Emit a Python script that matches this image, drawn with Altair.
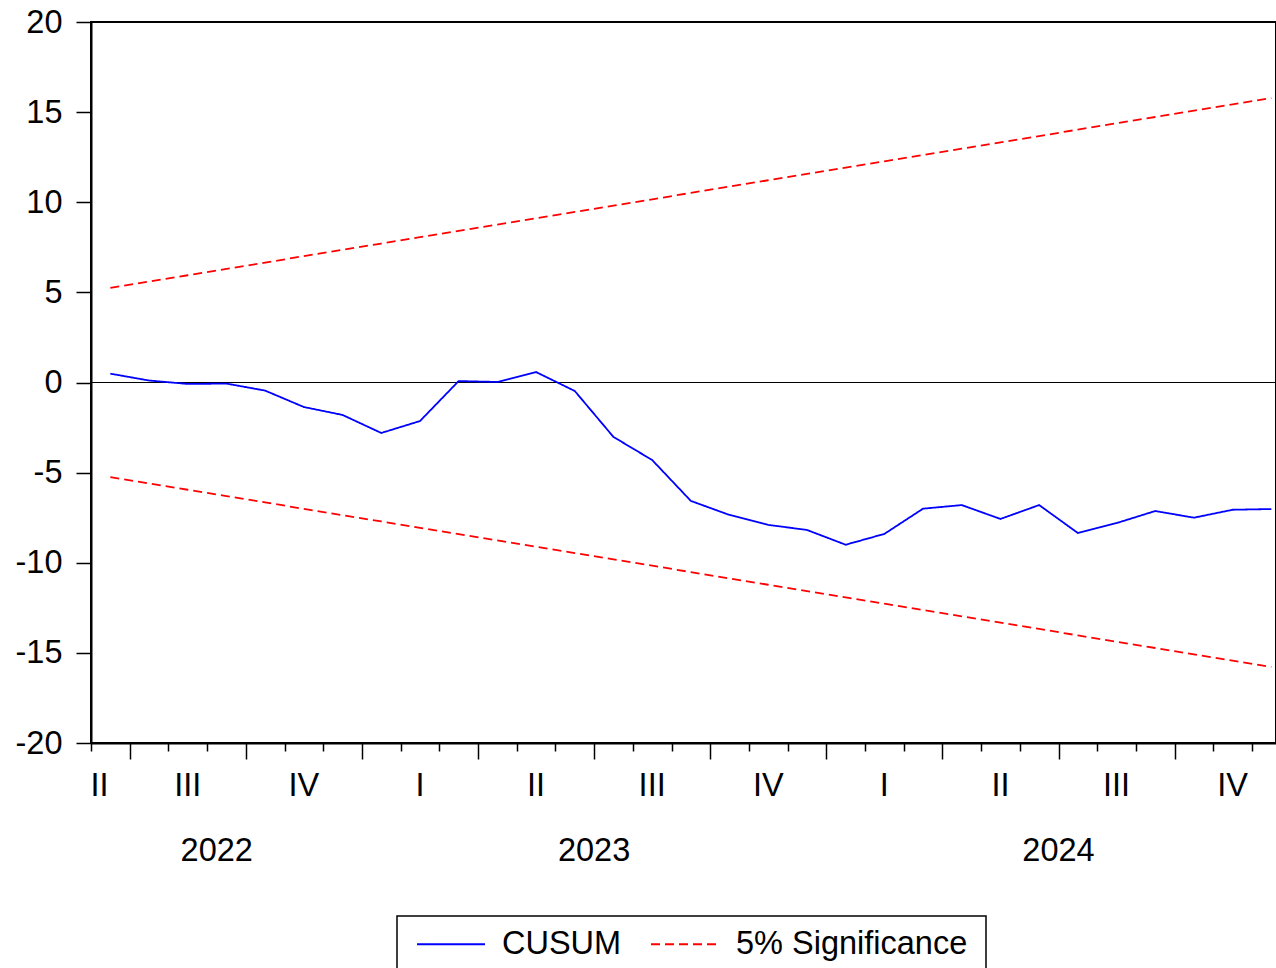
import altair as alt
import pandas as pd

# Monthly observations, Jun 2022 .. Dec 2024 (index 0 = Jun 2022)
cusum = [0.49, 0.11, -0.08, -0.06, -0.45, -1.36, -1.80, -2.80, -2.14, 0.08,
         0.03, 0.58, -0.47, -3.02, -4.30, -6.57, -7.35, -7.90, -8.18, -9.00,
         -8.40, -7.00, -6.80, -7.57, -6.80, -8.35, -7.80, -7.13, -7.50, -7.06,
         -7.02]
upper = [5.25, 5.60, 5.95, 6.30, 6.65, 7.01, 7.36, 7.71, 8.06, 8.41,
         8.76, 9.11, 9.46, 9.81, 10.16, 10.52, 10.87, 11.22, 11.57, 11.92,
         12.27, 12.62, 12.97, 13.32, 13.67, 14.03, 14.38, 14.73, 15.08, 15.43,
         15.78]
lower = [-5.25, -5.60, -5.95, -6.30, -6.65, -7.01, -7.36, -7.71, -8.06, -8.41,
         -8.76, -9.11, -9.46, -9.81, -10.16, -10.52, -10.87, -11.22, -11.57, -11.92,
         -12.27, -12.62, -12.97, -13.32, -13.67, -14.03, -14.38, -14.73, -15.08, -15.43,
         -15.78]

quarter_labels = ["II", "III", "IV", "I", "II", "III", "IV", "I", "II", "III", "IV"]
quarter_pos = [-0.28, 2, 5, 8, 11, 14, 17, 20, 23, 26, 29]
year_labels = ["2022", "2023", "2024"]
year_pos = [2.75, 12.5, 24.5]

month_edges = [i - 0.5 for i in range(31)]
y_ticks = [-20, -15, -10, -5, 0, 5, 10, 15, 20]

FONT = "Liberation Sans"
FS = 32.5
series_names = ["CUSUM", "5% Significance"]

rows = []
for i, v in enumerate(cusum):
    rows.append({"idx": i, "value": v, "series": "CUSUM", "band": "cusum"})
for i, v in enumerate(upper):
    rows.append({"idx": i, "value": v, "series": "5% Significance", "band": "upper"})
for i, v in enumerate(lower):
    rows.append({"idx": i, "value": v, "series": "5% Significance", "band": "lower"})
lines_df = pd.DataFrame(rows)

x_scale = alt.Scale(domain=[-0.5, 30.12], nice=False, zero=False)
y_scale = alt.Scale(domain=[-20, 20], nice=False, zero=False)

# month ticks are short, quarter boundaries get the long ones
x_axis = alt.Axis(
    values=month_edges, labels=False, title=None, grid=False,
    domainColor="black", domainWidth=2, tickColor="black", tickWidth=1.5,
    tickSize={"condition": {"test": "(datum.value - 0.5) % 3 == 0", "value": 16}, "value": 8},
)
y_axis = alt.Axis(
    values=y_ticks, title=None, grid=False, labelFont=FONT, labelFontSize=FS,
    labelExpr="'' + datum.value",
    labelColor="black", labelPadding=14, tickSize=15, tickWidth=1.5,
    tickColor="black", domainColor="black", domainWidth=2,
)

lines = alt.Chart(lines_df).mark_line(strokeWidth=1.8).encode(
    x=alt.X("idx:Q", scale=x_scale, axis=x_axis),
    y=alt.Y("value:Q", scale=y_scale, axis=y_axis),
    color=alt.Color(
        "series:N",
        scale=alt.Scale(domain=series_names, range=["#0000FF", "#FF0000"]),
        legend=alt.Legend(
            title=None, orient="none", legendX=325, legendY=887,
            direction="horizontal", symbolType="stroke", symbolSize=4624,
            symbolStrokeWidth=2, labelFont=FONT, labelFontSize=FS,
            labelColor="black", labelOffset=16, columnPadding=25,
            labelLimit=600, padding=0,
        ),
    ),
    strokeDash=alt.StrokeDash(
        "series:N",
        scale=alt.Scale(domain=series_names, range=[[1, 0], [9, 5]]),
        legend=alt.Legend(title=None),
    ),
    detail="band:N",
)

# frame around the legend
legend_frame = alt.Chart(pd.DataFrame({"k": [0]})).mark_rect(
    fill="white", stroke="black", strokeWidth=1.5
).encode(
    x=alt.value(306), x2=alt.value(895), y=alt.value(894), y2=alt.value(1000)
)

zero_line = alt.Chart(pd.DataFrame({"value": [0]})).mark_rule(
    color="black", strokeWidth=1
).encode(y=alt.Y("value:Q", scale=y_scale, axis=y_axis))

quarters = alt.Chart(pd.DataFrame({"pos": quarter_pos, "label": quarter_labels})).mark_text(
    font=FONT, fontSize=FS, color="black", baseline="alphabetic", align="center"
).encode(
    x=alt.X("pos:Q", scale=x_scale, axis=x_axis),
    y=alt.value(774),
    text="label:N",
)

years = alt.Chart(pd.DataFrame({"pos": year_pos, "label": year_labels})).mark_text(
    font=FONT, fontSize=FS, color="black", baseline="alphabetic", align="center"
).encode(
    x=alt.X("pos:Q", scale=x_scale, axis=x_axis),
    y=alt.value(839),
    text="label:N",
)

chart = alt.layer(legend_frame, zero_line, lines, quarters, years).properties(
    width=1185,
    height=721,
    padding={"left": 91, "top": 22, "right": 0, "bottom": 225},
    autosize=alt.AutoSizeParams(type="none"),
    background="white",
).configure_view(stroke="black", strokeWidth=2)

chart.save("out.html", embed_options={"renderer": "svg", "actions": False})
